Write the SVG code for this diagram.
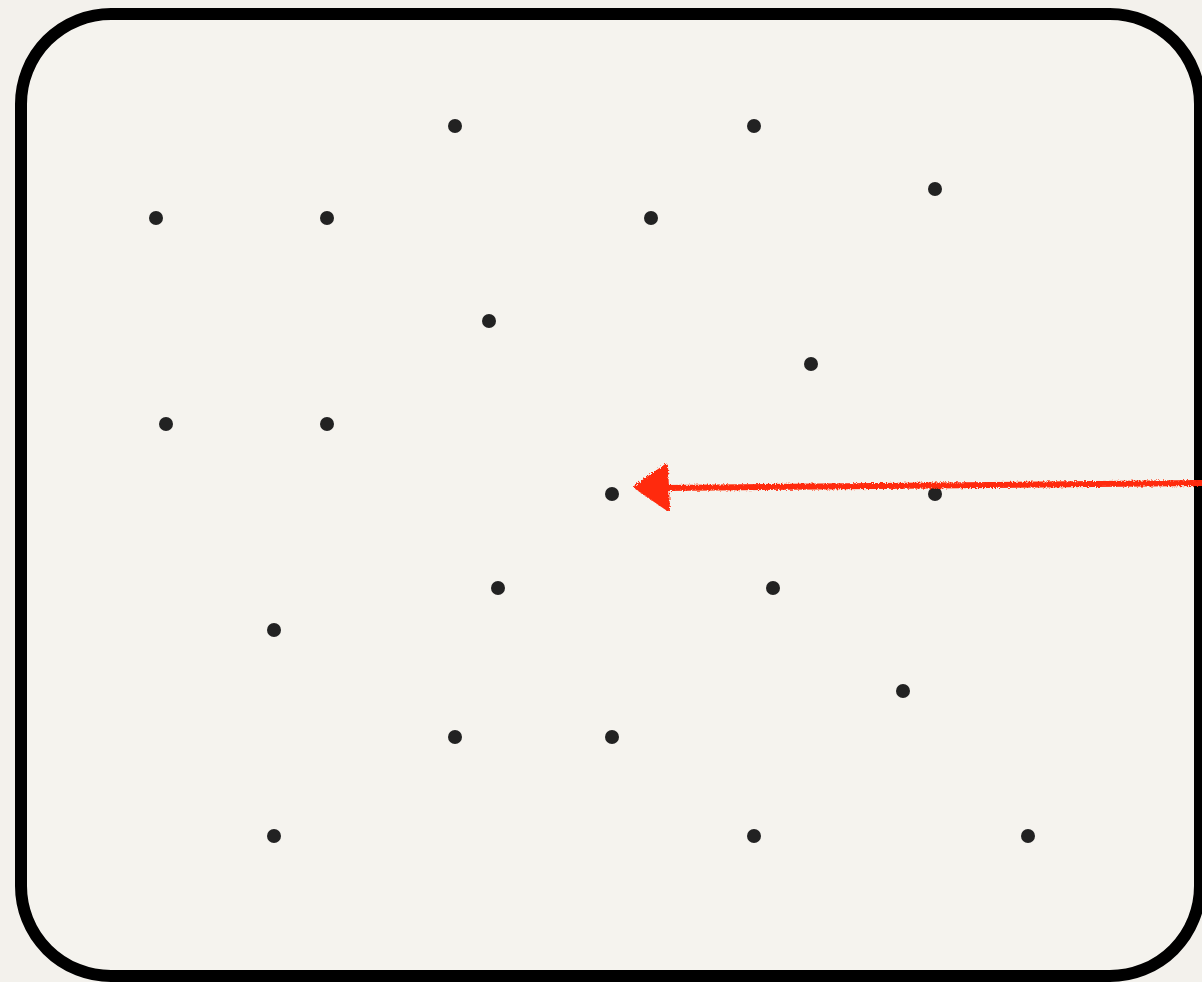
<svg xmlns="http://www.w3.org/2000/svg" width="1202" height="982" viewBox="0 0 1202 982">
  <defs>
    <style>
      .frame { fill: #f5f3ee; stroke: #000; stroke-width: 12; }
      .dot { fill: #222; }
      .arrow { stroke: #ff2a0a; stroke-width: 6; fill: none; }
      .head { fill: #ff2a0a; stroke: #ff2a0a; stroke-width: 4; stroke-linejoin: round; }
    </style>
    <filter id="rough" x="-5%" y="-50%" width="110%" height="200%">
      <feTurbulence type="fractalNoise" baseFrequency="0.6" numOctaves="2" seed="3"/>
      <feDisplacementMap in="SourceGraphic" scale="4"/>
    </filter>
  </defs>
  <rect x="0" y="0" width="1202" height="982" fill="#f3f1ec"/>
  <g id="frame">
    <rect class="frame" x="21" y="14" width="1179" height="962" rx="90" ry="90"/>
  </g>
  <g id="dots">
    <circle class="dot" cx="455" cy="126" r="7"/>
    <circle class="dot" cx="754" cy="126" r="7"/>
    <circle class="dot" cx="935" cy="189" r="7"/>
    <circle class="dot" cx="156" cy="218" r="7"/>
    <circle class="dot" cx="327" cy="218" r="7"/>
    <circle class="dot" cx="651" cy="218" r="7"/>
    <circle class="dot" cx="489" cy="321" r="7"/>
    <circle class="dot" cx="811" cy="364" r="7"/>
    <circle class="dot" cx="166" cy="424" r="7"/>
    <circle class="dot" cx="327" cy="424" r="7"/>
    <circle class="dot" cx="612" cy="494" r="7"/>
    <circle class="dot" cx="935" cy="494" r="7"/>
    <circle class="dot" cx="498" cy="588" r="7"/>
    <circle class="dot" cx="773" cy="588" r="7"/>
    <circle class="dot" cx="274" cy="630" r="7"/>
    <circle class="dot" cx="903" cy="691" r="7"/>
    <circle class="dot" cx="455" cy="737" r="7"/>
    <circle class="dot" cx="612" cy="737" r="7"/>
    <circle class="dot" cx="274" cy="836" r="7"/>
    <circle class="dot" cx="754" cy="836" r="7"/>
    <circle class="dot" cx="1028" cy="836" r="7"/>
  </g>
  <g id="connectors" filter="url(#rough)">
    <path class="arrow" d="M 1202 483 L 665 488"/>
    <path class="head" d="M 636 487 L 666 466 L 668 509 Z"/>
  </g>
</svg>
